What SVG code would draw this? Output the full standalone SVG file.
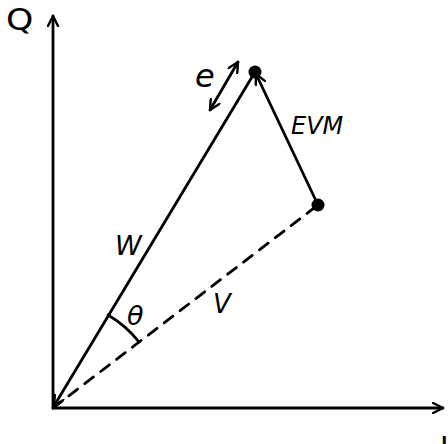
<svg xmlns="http://www.w3.org/2000/svg" width="448" height="444" viewBox="0 0 448 444">
<defs>
<style>
.ln{stroke:#000;stroke-width:2.8;fill:none;stroke-linecap:round}
.lbl{font-family:"DejaVu Sans","Liberation Sans",sans-serif;fill:#000}
.it{font-style:italic}
</style>
<marker id="arr" viewBox="0 0 12 12" refX="11" refY="6" markerWidth="12" markerHeight="12" markerUnits="userSpaceOnUse" orient="auto-start-reverse">
<path d="M1,1 L11,6 L1,11" stroke="#000" stroke-width="2.4" fill="none" stroke-linecap="round" stroke-linejoin="round"/>
</marker>
</defs>
<rect width="448" height="444" fill="#fff"/>
<g id="connectors">
<line id="axis-q" class="ln" x1="53" y1="408" x2="53" y2="16" marker-end="url(#arr)"/>
<line id="axis-i" class="ln" x1="53" y1="408" x2="443" y2="408" marker-end="url(#arr)"/>
<line id="w" class="ln" x1="255" y1="72" x2="54" y2="406" marker-end="url(#arr)"/>
<line id="v" class="ln" x1="53" y1="408" x2="318" y2="205" stroke-dasharray="11,9"/>
<line id="evm" class="ln" x1="318" y1="205" x2="256" y2="74" marker-end="url(#arr)"/>
<line id="e" class="ln" x1="238" y1="62" x2="210" y2="110" marker-start="url(#arr)" marker-end="url(#arr)"/>
<path id="theta-arc" class="ln" d="M108,315 A108,108 0 0 1 139,342"/>
</g>
<g id="node-top"><circle cx="255" cy="72" r="6.5" fill="#000"/></g>
<g id="node-right"><circle cx="318" cy="205" r="6.5" fill="#000"/></g>
<g id="labels">
<text class="lbl" x="6" y="30" font-size="31" transform="translate(6,30) scale(1.12,1) translate(-6,-30)">Q</text>
<text class="lbl" x="440" y="457" font-size="29">I</text>
<text class="lbl it" x="195" y="87" font-size="32">e</text>
<text class="lbl it" x="291" y="134" font-size="24">EVM</text>
<text class="lbl it" x="115" y="255" font-size="27">W</text>
<text class="lbl it" x="213" y="313" font-size="26">V</text>
<text class="lbl it" x="127" y="325" font-size="27">θ</text>
</g>
</svg>
